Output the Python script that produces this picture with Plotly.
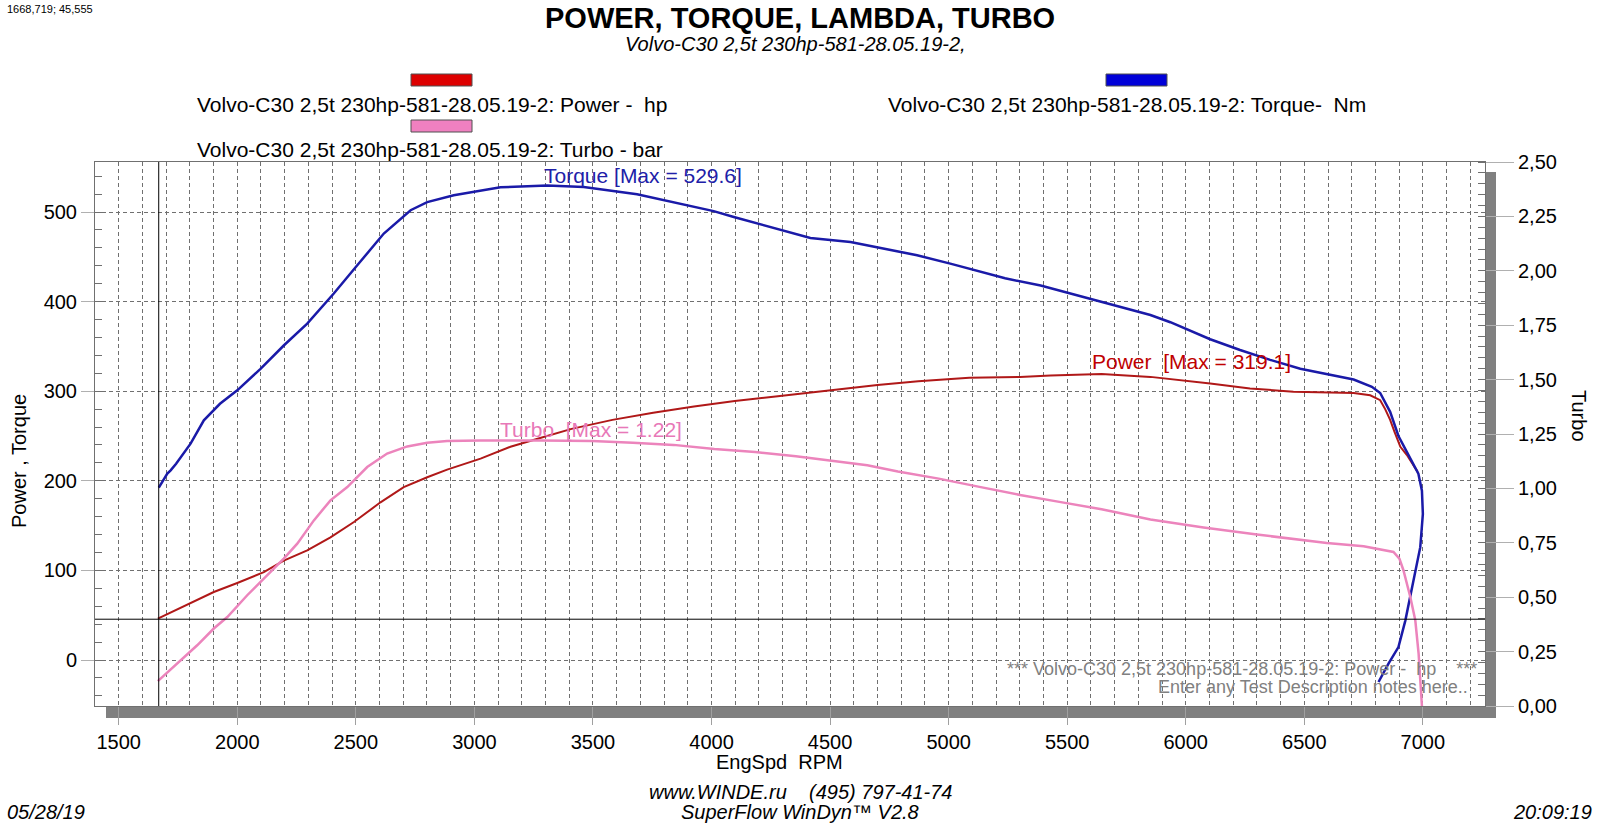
import plotly.graph_objects as go

W, H = 1599, 825

# torque, Nm
torque_rpm = [1669, 1705, 1719, 1742, 1803, 1859, 1927, 2000, 2098, 2196, 2295, 2407, 2506, 2618,
              2731, 2801, 2913, 3026, 3110, 3307, 3461, 3686, 3939, 4009, 4094, 4304, 4417, 4586,
              4726, 4867, 5007, 5130, 5238, 5388, 5560, 5732, 5851, 5935, 6103, 6229, 6356, 6483,
              6610, 6708, 6785, 6820, 6862, 6897, 6939, 6981, 6996, 7000, 6989, 6968, 6947, 6926,
              6897, 6855, 6813]
torque_nm = [192.5, 208, 211.7, 219, 241.5, 267.5, 286, 301, 325, 351, 375.4, 409, 440.5, 476,
             502, 511, 518.6, 524, 527.5, 529.6, 528, 519.8, 505, 501, 494.4, 479.6, 471, 466.5,
             459, 451.7, 442.4, 434, 426, 418, 406, 394, 385, 377, 358, 346, 335, 325,
             318, 313, 305, 298, 277, 250, 229, 208, 189, 163, 126, 100, 70, 44,
             14.5, -4, -24.5]

# power, hp
power_rpm = [1665, 1733, 1804, 1901, 2000, 2112, 2196, 2295, 2393, 2492, 2604, 2702, 2801, 2885,
             3026, 3152, 3281, 3410, 3582, 3754, 3926, 4098, 4270, 4442, 4571, 4700, 4872, 5087,
             5301, 5430, 5645, 5851, 6103, 6271, 6454, 6600, 6708, 6778, 6820, 6841, 6862, 6880,
             6905, 6932, 6960, 6978]
power_hp = [46.2, 54.7, 63, 75.9, 86, 98, 111, 122.4, 137, 154, 176, 193, 204, 212.5,
            224.8, 238, 248, 258, 268, 276, 283, 289, 294, 299, 303, 307, 311, 315,
            316, 317.5, 319.1, 316, 308.5, 303, 299.5, 298.5, 298, 295.5, 290, 280, 268, 255,
            238, 229, 218, 210]

# turbo, bar
turbo_rpm = [1665, 1761, 1831, 1901, 1958, 2042, 2126, 2196, 2253, 2323, 2393, 2464, 2548, 2632,
             2717, 2801, 2885, 3026, 3281, 3496, 3668, 3840, 4012, 4184, 4356, 4528, 4657, 4786,
             4958, 5130, 5301, 5473, 5645, 5851, 6075, 6300, 6511, 6595, 6750, 6834, 6876, 6901,
             6918, 6947, 6968, 6982, 6992, 6996]
turbo_bar = [0.114, 0.210, 0.279, 0.356, 0.409, 0.509, 0.601, 0.677, 0.746, 0.853, 0.945, 1.006,
             1.098, 1.160, 1.193, 1.210, 1.218, 1.22, 1.22, 1.218, 1.21, 1.20, 1.181, 1.167, 1.148,
             1.125, 1.106, 1.078, 1.045, 1.007, 0.97, 0.937, 0.904, 0.857, 0.82, 0.788, 0.762,
             0.749, 0.734, 0.719, 0.708, 0.677, 0.624, 0.501, 0.394, 0.241, 0.087, 0.0]

rpm_ticks = [1500, 2000, 2500, 3000, 3500, 4000, 4500, 5000, 5500, 6000, 6500, 7000]
left_ticks = [0, 100, 200, 300, 400, 500]
right_ticks = [0, 0.25, 0.5, 0.75, 1.0, 1.25, 1.5, 1.75, 2.0, 2.25, 2.5]
right_labels = ["0,00", "0,25", "0,50", "0,75", "1,00", "1,25", "1,50", "1,75", "2,00", "2,25", "2,50"]

cursor_rpm = 1668.719
cursor_val = 45.555

FONT = "Arial, 'Liberation Sans', sans-serif"

# plot box in pixels
L, R, T, B = 95, 1485, 162, 706


def px(x):
    return x / W


def py(y):
    return 1 - y / H


fig = go.Figure()
fig.add_trace(go.Scatter(x=power_rpm, y=power_hp, mode="lines", line=dict(color="#b01818", width=2),
                         showlegend=False))
fig.add_trace(go.Scatter(x=torque_rpm, y=torque_nm, mode="lines", line=dict(color="#1a1aa8", width=2.5),
                         showlegend=False))
fig.add_trace(go.Scatter(x=turbo_rpm, y=turbo_bar, mode="lines", line=dict(color="#ec84bc", width=2.5),
                         yaxis="y2", showlegend=False))

grid = dict(gridcolor="#707070", gridwidth=1, griddash="4px,3px")

fig.update_layout(
    width=W, height=H, autosize=False, template="none",
    margin=dict(l=0, r=0, t=0, b=0),
    paper_bgcolor="white", plot_bgcolor="white",
    font=dict(family=FONT, size=20, color="black"),
    xaxis=dict(domain=[px(L), px(R)], range=[1400, 7262], tickvals=rpm_ticks,
               showgrid=True, **grid, zeroline=False,
               minor=dict(dtick=100, tick0=0, showgrid=True, **grid),
               ticks="outside", ticklen=18, tickcolor="#a0a0a0",
               showline=True, mirror=True, linecolor="#707070",
               tickfont=dict(size=20), automargin=False),
    yaxis=dict(domain=[py(B), py(T)], range=[-51.3, 555.8], tickvals=left_ticks,
               showgrid=True, **grid, zeroline=False,
               ticks="outside", ticklen=13, tickcolor="#b0b0b0",
               minor=dict(dtick=20, tick0=0, ticks="inside", ticklen=7, tickcolor="#707070"),
               showline=True, mirror=True, linecolor="#707070",
               tickfont=dict(size=20), automargin=False),
    yaxis2=dict(overlaying="y", side="right", range=[0, 2.5], tickvals=right_ticks,
                ticktext=right_labels, showgrid=False, zeroline=False,
                ticks="outside", ticklen=28, tickcolor="#b0b0b0",
                minor=dict(dtick=0.05, tick0=0, ticks="inside", ticklen=7, tickcolor="#707070"),
                tickfont=dict(size=20), automargin=False),
)

# drop shadow of the plot box
fig.add_shape(type="rect", xref="paper", yref="paper", x0=px(106), x1=px(1496), y0=py(718), y1=py(B),
              fillcolor="#808080", line_width=0, layer="below")
fig.add_shape(type="rect", xref="paper", yref="paper", x0=px(R), x1=px(1496), y0=py(718), y1=py(172),
              fillcolor="#808080", line_width=0, layer="below")

# cursor cross
fig.add_shape(type="line", xref="x", yref="paper", x0=cursor_rpm, x1=cursor_rpm, y0=py(B), y1=py(T),
              line=dict(color="black", width=1))
fig.add_shape(type="line", xref="paper", yref="y", x0=px(L), x1=px(R), y0=cursor_val, y1=cursor_val,
              line=dict(color="black", width=1))


def note(text, x, y, size=20, color="black", xanchor="center", **kw):
    fig.add_annotation(x=px(x), y=py(y), xref="paper", yref="paper", text=text, showarrow=False,
                       xanchor=xanchor, yanchor="middle", font=dict(family=FONT, size=size, color=color),
                       **kw)


NB = "\u00a0"
run = "Volvo-C30 2,5t 230hp-581-28.05.19-2"

note("<b>POWER, TORQUE, LAMBDA, TURBO</b>", 800, 18, size=29)
note("<i>" + run + ",</i>", 795, 44, size=20)
note("1668,719; 45,555", 5, 9, size=11, xanchor="left")

# legend
for x0, y0, col in [(411, 74, "#dd0000"), (411, 120, "#f080c0"), (1106, 74, "#0000d8")]:
    fig.add_shape(type="rect", xref="paper", yref="paper", x0=px(x0), x1=px(x0 + 61), y0=py(y0 + 12),
                  y1=py(y0), fillcolor=col, line=dict(color="#505050", width=1))
note(run + ": Power -" + NB + NB + "hp", 195, 104, size=21, xanchor="left")
note(run + ": Turbo - bar", 195, 149, size=21, xanchor="left")
note(run + ": Torque-" + NB + NB + "Nm", 886, 104, size=21, xanchor="left")

# curve labels
note("Torque [Max = 529.6]", 542, 175, size=21, color="#2020a8", xanchor="left")
note("Power" + NB + NB + "[Max = 319.1]", 1090, 362, size=21, color="#c00000", xanchor="left")
note("Turbo" + NB + NB + "[Max = 1.22]", 498, 429, size=21, color="#e878b8", xanchor="left")

# test notes
note("*** " + run + ": Power -" + NB + NB + "hp" + NB * 4 + "***", 1479, 669, size=18, color="#808080",
     xanchor="right")
note("Enter any Test Description notes here..", 1470, 687, size=18, color="#808080", xanchor="right")

# axis titles
note("EngSpd" + NB + NB + "RPM", 779, 762, size=20)
note("Power , Torque", 19, 461, size=20, textangle=-90)
note("Turbo", 1579, 416, size=20, textangle=90)

# footer
note("<i>www.WINDE.ru" + NB * 4 + "(495) 797-41-74</i>", 800, 792, size=20)
note("<i>SuperFlow WinDyn\u2122 V2.8</i>", 800, 812, size=20)
note("<i>05/28/19</i>", 5, 812, size=20, xanchor="left")
note("<i>20:09:19</i>", 1594, 812, size=20, xanchor="right")

fig.write_html("out.html", config={"displayModeBar": False},
               post_script="document.body.style.margin='0';")
